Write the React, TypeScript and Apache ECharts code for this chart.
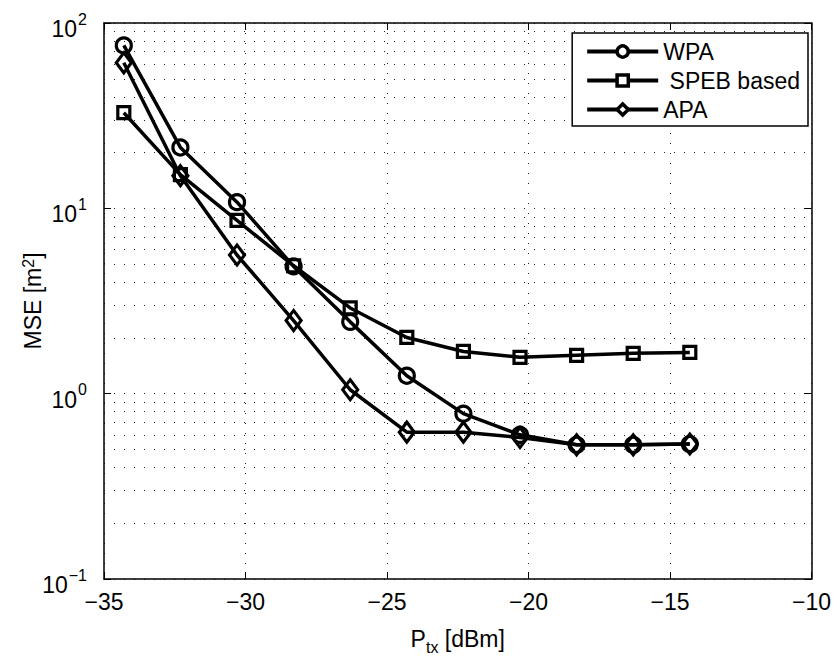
import React, { useEffect, useRef } from "react";
import * as echarts from "echarts";

const xValues = [-34.3, -32.3, -30.3, -28.3, -26.3, -24.3, -22.3, -20.3, -18.3, -16.3, -14.3];
const wpa = [75.7, 21.3, 10.8, 4.86, 2.44, 1.25, 0.78, 0.6, 0.53, 0.53, 0.535];
const speb = [32.8, 15.2, 8.6, 4.9, 2.9, 2.01, 1.69, 1.57, 1.61, 1.65, 1.67];
const apa = [61, 15.0, 5.6, 2.48, 1.05, 0.62, 0.62, 0.58, 0.53, 0.53, 0.535];
const seriesNames = ["WPA", " SPEB based", "APA"];
const minorGridValues = [0.2, 0.3, 0.4, 0.5, 0.6, 0.7, 0.8, 0.9, 2, 3, 4, 5, 6, 7, 8, 9, 20, 30, 40, 50, 60, 70, 80, 90];

const FONT = "Liberation Sans, Arial, Helvetica, sans-serif";
const FS = 23;

export default function App() {
  const ref = useRef<HTMLDivElement>(null);
  useEffect(() => {
    if (!ref.current) return;
    const chart = echarts.init(ref.current, undefined, { renderer: "svg" });
    const dotted = { type: [1, 9] as any, color: "#222", width: 1 };
    const mk = (data: number[]) => xValues.map((x, i) => [x, data[i]]);
    const common = (name: string, data: number[], symbol: string, symbolSize: any) => ({
      name,
      type: "line",
      data: mk(data),
      symbol,
      symbolSize,
      showSymbol: true,
      lineStyle: { color: "#000", width: 3.5 },
      itemStyle: { color: "rgba(255,255,255,0)", borderColor: "#000", borderWidth: 3.2 },
      z: 5,
    });
    const option: any = {
      animation: false,
      textStyle: { fontFamily: FONT },
      grid: { left: 104, right: 15, top: 23, bottom: 73, show: false },
      legend: {
        orient: "vertical",
        right: 26,
        top: 33,
        itemWidth: 71,
        itemHeight: 14,
        itemGap: 6,
        padding: [7, 8, 5, 13],
        borderColor: "#000",
        borderWidth: 1.5,
        backgroundColor: "#fff",
        lineStyle: { color: "#000", width: 4 },
        itemStyle: { color: "#fff", borderColor: "#000", borderWidth: 3.5 },
        textStyle: { fontSize: FS, fontFamily: FONT, color: "#000", lineHeight: 23 },
        data: seriesNames,
        z: 10,
      },
      xAxis: [
        {
          type: "value",
          min: -35,
          max: -10,
          interval: 5,
          axisLine: { show: true, lineStyle: { color: "#000", width: 1.5 } },
          axisTick: { show: true, inside: true, length: 7, lineStyle: { color: "#000" } },
          axisLabel: {
            fontSize: FS,
            color: "#000",
            fontFamily: FONT,
            margin: 11,
            formatter: (v: number) => (v < 0 ? "\u2212" + Math.abs(v) : String(v)),
          },
          splitLine: { show: true, lineStyle: dotted },
          name: "P{sub|tx} [dBm]",
          nameLocation: "middle",
          nameGap: 44,
          nameMoveOverlap: false,
          nameTextStyle: {
            fontSize: FS,
            color: "#000",
            fontFamily: FONT,
            rich: {
              sub: { fontSize: 16, fontFamily: FONT, color: "#000", padding: [16, 0, 0, 0] },
            },
          },
        },
        {
          type: "value",
          position: "top",
          min: -35,
          max: -10,
          interval: 5,
          axisLine: { show: true, lineStyle: { color: "#000", width: 1.5 } },
          axisTick: { show: true, inside: true, length: 7, lineStyle: { color: "#000" } },
          axisLabel: { show: false },
          splitLine: { show: false },
        },
      ],
      yAxis: [
        {
          type: "log",
          logBase: 10,
          min: 0.1,
          max: 100,
          axisLine: { show: true, lineStyle: { color: "#000", width: 1.5 } },
          axisTick: { show: true, inside: true, length: 7, lineStyle: { color: "#000" } },
          axisLabel: {
            color: "#000",
            margin: 17,
            formatter: (v: number) => "{b|10}{s|" + String(Math.round(Math.log10(v))).replace("-", "\u2212") + "}",
            rich: {
              b: { fontSize: FS, fontFamily: FONT, color: "#000", padding: [12, 0, 0, 0] },
              s: { fontSize: 16, fontFamily: FONT, color: "#000", padding: [0, 0, 8, 1] },
            },
          },
          splitLine: { show: true, lineStyle: dotted },
          name: "MSE [m{sup|2}]",
          nameLocation: "middle",
          nameGap: 58,
          nameMoveOverlap: false,
          nameTextStyle: {
            fontSize: FS,
            color: "#000",
            fontFamily: FONT,
            rich: {
              sup: { fontSize: 16, fontFamily: FONT, color: "#000", padding: [0, 0, 10, 0] },
            },
          },
        },
        {
          type: "log",
          logBase: 10,
          min: 0.1,
          max: 100,
          position: "right",
          axisLine: { show: true, lineStyle: { color: "#000", width: 1.5 } },
          axisTick: { show: true, inside: true, length: 7, lineStyle: { color: "#000" } },
          axisLabel: { show: false },
          splitLine: { show: false },
        },
      ],
      series: [
        {
          ...common(seriesNames[0], wpa, "circle", 15),
          markLine: {
            silent: true,
            symbol: "none",
            label: { show: false },
            lineStyle: dotted,
            emphasis: { disabled: true },
            data: minorGridValues.map((v) => ({ yAxis: v })),
            z: 1,
          },
        },
        common(seriesNames[1], speb, "rect", 12),
        common(seriesNames[2], apa, "diamond", [15, 20]),
      ],
    };
    chart.setOption(option);
    return () => chart.dispose();
  }, []);
  return <div ref={ref} style={{ width: 834, height: 660, position: "absolute", left: 0, top: 0, background: "#fff" }} />;
}
